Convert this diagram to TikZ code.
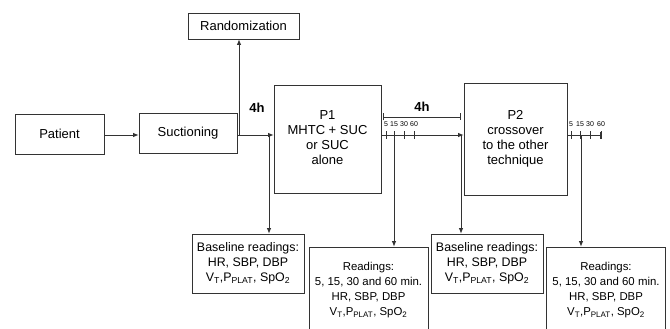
\documentclass[tikz,border=0pt]{standalone}
\usepackage{fontspec}
\setmainfont{Liberation Sans}
\usetikzlibrary{arrows.meta}
\newcommand\boxlines[1]{\raisebox{3pt}{\begin{tabular}{@{}c@{}}#1\end{tabular}}}
\begin{document}
\begin{tikzpicture}[x=1pt,y=-1pt,line width=0.8pt,
  box/.style={draw=black!80, align=center, inner sep=0pt, font=\fontsize{13}{15}\selectfont},
  basebox/.style={box, minimum width=112pt, minimum height=59pt, font=\fontsize{12.4}{15}\selectfont},
  readbox/.style={box, minimum width=119pt, minimum height=86pt, font=\fontsize{11.4}{15}\selectfont},
  arr/.style={draw=black!80, -{Latex[length=5.5pt,width=4.5pt]}},
  tick/.style={inner sep=0pt, font=\fontsize{7}{7}\selectfont}]
\def\vitals{V\textsubscript{T},P\textsubscript{PLAT}, SpO\textsubscript{2}}
\useasboundingbox (0,0) rectangle (670,329);

    \node[box, minimum width=111pt, minimum height=26pt] (random) at (243.5,26) {Randomization};
    \node[box, minimum width=89pt, minimum height=40pt] (patient) at (59.5,134) {Patient};
    \node[box, minimum width=98pt, minimum height=40pt] (suction) at (188,133) {Suctioning};
    \node[box, minimum width=107pt, minimum height=108pt] (first) at (327.5,139) {\boxlines{P1\\MHTC + SUC\\or SUC\\alone}};
    \node[box, minimum width=103pt, minimum height=112pt] (second) at (515.5,139) {\boxlines{P2\\crossover\\to the other\\technique}};

    \node[basebox] (firstbase) at (248,263.5) {Baseline readings:\\HR, SBP, DBP\\\vitals};
    \node[readbox] (firstread) at (368.5,290) {Readings:\\5, 15, 30 and 60 min.\\HR, SBP, DBP\\\vitals};
    \node[basebox] (secondbase) at (487,263.5) {Baseline readings:\\HR, SBP, DBP\\\vitals};
    \node[readbox] (secondread) at (606,290) {Readings:\\5, 15, 30 and 60 min.\\HR, SBP, DBP\\\vitals};

    \coordinate (up) at (239,135);
    \coordinate (down) at (269,135);
    \coordinate (cross) at (461,135);
    \coordinate (firsttick) at (394,135);
    \coordinate (secondtick) at (581,135);
    \coordinate (tickend) at (601,135);
    \coordinate (hfrom) at (383,117);
    \coordinate (hto) at (461,117);

    \draw[arr] (patient.east |- up) -- (suction.west |- up);
    \draw[arr] (suction.east |- up) -- (first.west |- up);
    \draw[arr] (up) -- (up |- random.south);
    \draw[arr] (down) -- (down |- firstbase.north);
    \node[font=\fontsize{13}{15}\selectfont\bfseries] at (257,108) {4h};

    \draw[arr] (first.east |- up) -- (second.west |- up);
    \draw[draw=black!80, {Bar[width=7pt]}-{Bar[width=7pt]}] (hfrom) -- (hto) node[midway, above=2pt, font=\fontsize{13}{15}\selectfont\bfseries] {4h};
    \draw[arr] (firsttick) -- (firsttick |- firstread.north);
    \draw[arr] (cross) -- (cross |- secondbase.north);

    \draw[draw=black!80, -{Bar[width=7pt]}] (second.east |- up) -- (tickend);
    \draw[arr] (secondtick) -- (secondtick |- secondread.north);

    \foreach \x/\t in {386/5,394/15,404/30,414/60}{
        \draw[black!80] (\x,131) -- (\x,139);
        \node[tick] at (\x,124) {\t};
    }
    \foreach \x/\t in {571/5,580/15,590/30,601/60}{
        \draw[black!80] (\x,131) -- (\x,139);
        \node[tick] at (\x,124) {\t};
    }

\end{tikzpicture}
\end{document}
